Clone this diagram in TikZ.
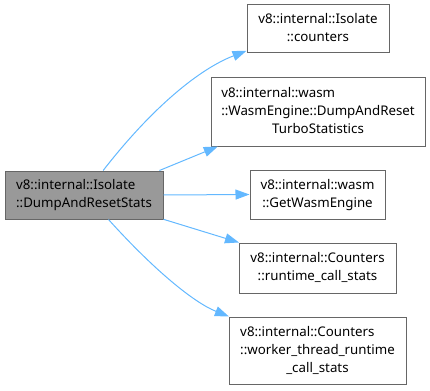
\documentclass[tikz,border=0pt]{standalone}
\usepackage{fontspec}
\setmainfont{Noto Sans}
\usetikzlibrary{arrows.meta}

\definecolor{edgeblue}{HTML}{63B8FF}
\definecolor{boxline}{HTML}{666666}
\definecolor{mainfill}{HTML}{999999}

% label: leading lines left aligned, last line centred
\newcommand{\lastline}[1]{\multicolumn{1}{@{}c@{}}{#1}}

\tikzset{
  fn/.style={rectangle, draw=boxline, line width=1pt, fill=white,
    inner sep=0pt, text=black, font=\fontsize{13.3}{18}\selectfont},
  mainfn/.style={fn, fill=mainfill},
  calls/.style={draw=edgeblue, line width=1pt,
    -{Triangle[length=14pt,width=10pt]}}
}

\begin{document}
\begin{tikzpicture}[x=1pt,y=-1pt]
  \useasboundingbox (0,0) rectangle (430,390);

  \node[mainfn, minimum width=158pt, minimum height=48pt] (main) at (84,195)
    {\begin{tabular}{@{}l@{}}v8::internal::Isolate\\\lastline{::DumpAndResetStats}\end{tabular}};

  \node[fn, minimum width=142pt, minimum height=48pt] (cnt) at (318,29)
    {\begin{tabular}{@{}l@{}}v8::internal::Isolate\\\lastline{::counters}\end{tabular}};

  \node[fn, minimum width=214pt, minimum height=68pt] (turbo) at (318,112)
    {\begin{tabular}{@{}l@{}}v8::internal::wasm\\::WasmEngine::DumpAndReset\\\lastline{TurboStatistics}\end{tabular}};

  \node[fn, minimum width=135pt, minimum height=49pt] (engine) at (317.5,194.5)
    {\begin{tabular}{@{}l@{}}v8::internal::wasm\\\lastline{::GetWasmEngine}\end{tabular}};

  \node[fn, minimum width=157pt, minimum height=50pt] (rcs) at (317.5,268)
    {\begin{tabular}{@{}l@{}}v8::internal::Counters\\\lastline{::runtime\_call\_stats}\end{tabular}};

  \node[fn, minimum width=177pt, minimum height=67pt] (wtrcs) at (317.5,350.5)
    {\begin{tabular}{@{}l@{}}v8::internal::Counters\\::worker\_thread\_runtime\\\lastline{\_call\_stats}\end{tabular}};

  % call edges
  \draw[calls] (main.52) .. controls +(49,-63) and +(-47,18) .. (cnt.197);
  \draw[calls] (main.18.7) -- (turbo.199);
  \draw[calls] (main.east) -- (engine.west);
  \draw[calls] (main.-17) -- (rcs.162);
  \draw[calls] (main.-45) .. controls +(46,51) and +(-35,-14) .. (wtrcs.159);
\end{tikzpicture}
\end{document}
